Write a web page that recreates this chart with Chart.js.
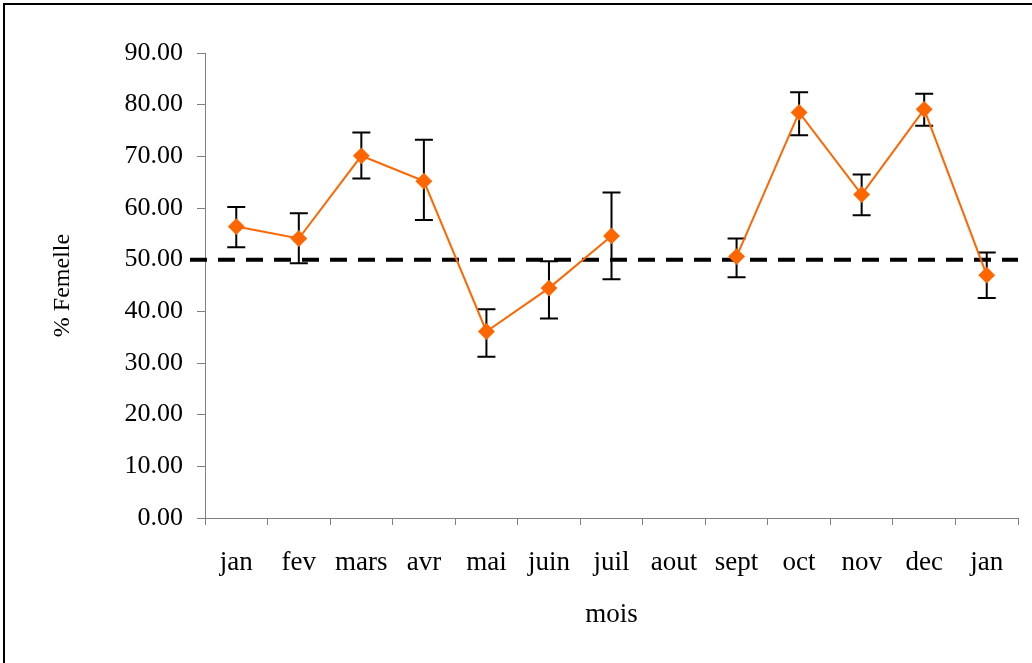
<!DOCTYPE html>
<html>
<head>
<meta charset="utf-8">
<script src="https://cdn.jsdelivr.net/npm/chart.js@4"></script>
<style>
  body { margin: 0; background: #fff; }
  #cadre { position: relative; width: 1032px; height: 663px; overflow: hidden; }
  #bord { position: absolute; left: 3px; top: 3px; width: 1100px; height: 700px; border: 2px solid #000; pointer-events: none; }
</style>
</head>
<body>
<div id="cadre">
  <canvas id="graphe" width="1032" height="663"></canvas>
  <div id="bord"></div>
</div>
<script>
var mois = ['jan', 'fev', 'mars', 'avr', 'mai', 'juin', 'juil', 'aout', 'sept', 'oct', 'nov', 'dec', 'jan'];
var femelles = [56.4, 54.1, 70.1, 65.2, 36.1, 44.5, 54.6, null, 50.6, 78.5, 62.6, 79.1, 47.0];
var errHaut = [60.2, 59.0, 74.6, 73.2, 40.4, 49.7, 63.0, null, 54.1, 82.4, 66.5, 82.1, 51.4];
var errBas = [52.4, 49.3, 65.7, 57.7, 31.2, 38.6, 46.2, null, 46.6, 74.1, 58.6, 75.9, 42.6];
var seuil = 50;
var yTicks = [0, 10, 20, 30, 40, 50, 60, 70, 80, 90];

var police = "'Liberation Serif', 'Times New Roman', serif";

// ligne pointillee a 50 %
var ligneSeuil = {
    id: 'ligneSeuil',
    beforeDatasetsDraw: function (chart) {
        var ctx = chart.ctx;
        var y = chart.scales.y.getPixelForValue(seuil);
        ctx.save();
        ctx.strokeStyle = '#000';
        ctx.lineWidth = 4;
        ctx.setLineDash([17, 11]);
        ctx.beginPath();
        ctx.moveTo(chart.chartArea.left - 15, y);
        ctx.lineTo(chart.chartArea.right, y);
        ctx.stroke();
        ctx.restore();
    }
};

// barres d'erreur
var barresErreur = {
    id: 'barresErreur',
    beforeDatasetsDraw: function (chart) {
        var ctx = chart.ctx;
        var xs = chart.scales.x, ys = chart.scales.y;
        ctx.save();
        ctx.strokeStyle = '#000';
        ctx.lineWidth = 2;
        for (var i = 0; i < mois.length; i++) {
            if (errHaut[i] == null) continue;
            var x = xs.getPixelForValue(i);
            var y1 = ys.getPixelForValue(errHaut[i]);
            var y2 = ys.getPixelForValue(errBas[i]);
            ctx.beginPath();
            ctx.moveTo(x, y1); ctx.lineTo(x, y2);
            ctx.moveTo(x - 9, y1); ctx.lineTo(x + 9, y1);
            ctx.moveTo(x - 9, y2); ctx.lineTo(x + 9, y2);
            ctx.stroke();
        }
        ctx.restore();
    }
};

var ctx = document.getElementById('graphe').getContext('2d');
var graphe = new Chart(ctx, {
    type: 'line',
    data: {
        labels: mois,
        datasets: [{
            data: femelles,
            borderColor: '#FF6600',
            backgroundColor: '#FF6600',
            borderWidth: 2,
            pointStyle: 'rectRot',
            pointRadius: 7,
            pointHoverRadius: 7,
            spanGaps: false,
            tension: 0
        }]
    },
    options: {
        responsive: false,
        animation: false,
        events: [],
        layout: { padding: { left: 0, top: 53, right: 14, bottom: 0 } },
        plugins: {
            legend: { display: false },
            tooltip: { enabled: false }
        },
        scales: {
            x: {
                offset: true,
                afterFit: function (scale) { scale.height = 145; },
                grid: { offset: true, drawOnChartArea: false, tickLength: 7, color: '#808080' },
                border: { color: '#808080', width: 1 },
                ticks: { color: '#000', padding: 22, maxRotation: 0, autoSkip: false, font: { family: police, size: 27 } },
                title: { display: true, text: 'mois', color: '#000', padding: { top: 4, bottom: 32 }, font: { family: police, size: 27 } }
            },
            y: {
                min: 0,
                max: 90,
                afterFit: function (scale) { scale.width = 205; },
                afterBuildTicks: function (scale) {
                    scale.ticks = yTicks.map(function (v) { return { value: v }; });
                },
                grid: { drawOnChartArea: false, tickLength: 8, color: '#808080' },
                border: { color: '#808080', width: 1 },
                ticks: {
                    color: '#000',
                    padding: 14,
                    font: { family: police, size: 26 },
                    callback: function (v) { return v.toFixed(2); }
                },
                title: { display: true, text: '% Femelle', color: '#000', padding: { top: 48, bottom: 0 }, font: { family: police, size: 24 } }
            }
        }
    },
    plugins: [ligneSeuil, barresErreur]
});
</script>
</body>
</html>
